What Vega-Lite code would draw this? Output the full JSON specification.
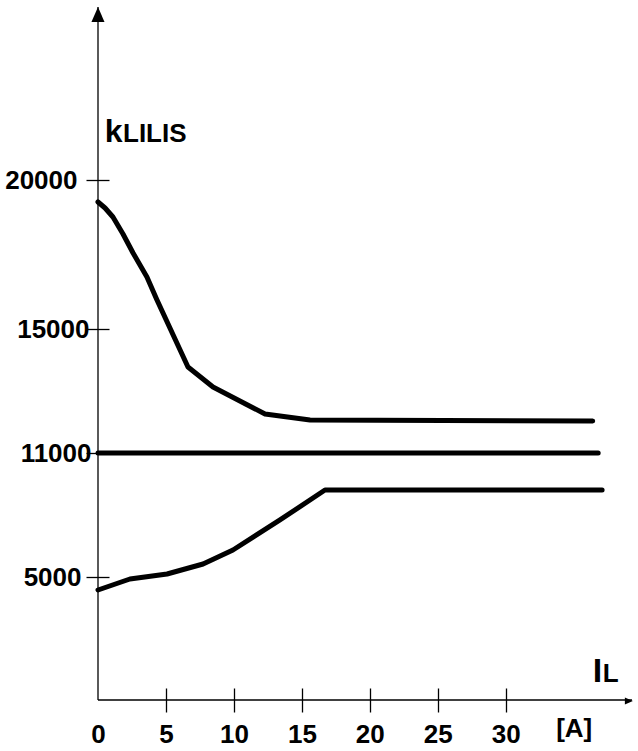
{
  "$schema": "https://vega.github.io/schema/vega-lite/v6.json",
  "width": 534,
  "height": 693,
  "autosize": {"type": "none"},
  "padding": {"left": 98, "top": 7, "right": 6, "bottom": 51},
  "background": "white",
  "config": {"view": {"stroke": null}, "font": "Liberation Sans"},
  "layer": [
    {
      "data": {"values": [
        {"s": "upper", "x": 0, "y": 19262},
        {"s": "upper", "x": 0.52, "y": 19060},
        {"s": "upper", "x": 1.10, "y": 18758},
        {"s": "upper", "x": 1.84, "y": 18188},
        {"s": "upper", "x": 2.58, "y": 17550},
        {"s": "upper", "x": 3.6, "y": 16745},
        {"s": "upper", "x": 4.34, "y": 15973},
        {"s": "upper", "x": 6.62, "y": 13774},
        {"s": "upper", "x": 8.46, "y": 13129},
        {"s": "upper", "x": 12.29, "y": 12258},
        {"s": "upper", "x": 15.6, "y": 12064},
        {"s": "upper", "x": 36.4, "y": 12032},
        {"s": "middle", "x": 0, "y": 11000},
        {"s": "middle", "x": 36.8, "y": 11000},
        {"s": "lower", "x": 0, "y": 4472},
        {"s": "lower", "x": 2.35, "y": 4919},
        {"s": "lower", "x": 5.08, "y": 5145},
        {"s": "lower", "x": 7.73, "y": 5629},
        {"s": "lower", "x": 9.93, "y": 6307},
        {"s": "lower", "x": 13.39, "y": 7759},
        {"s": "lower", "x": 16.7, "y": 9211},
        {"s": "lower", "x": 37.09, "y": 9211}
      ]},
      "mark": {"type": "line", "color": "black", "strokeWidth": 5, "strokeCap": "round", "strokeJoin": "round"},
      "encoding": {
        "x": {"field": "x", "type": "quantitative",
          "scale": {"domain": [0, 39.29], "nice": false, "zero": false},
          "axis": {"title": null, "domain": false, "grid": false,
            "values": [0, 5, 10, 15, 20, 25, 30, 35],
            "labelExpr": "datum.value == 35 ? '[A]' : datum.label",
            "offset": -12, "tickSize": 24, "tickWidth": 1.3, "tickColor": "black",
            "tickOpacity": {"condition": {"test": "datum.value == 0 || datum.value == 35", "value": 0}, "value": 1},
            "labelPadding": {"condition": {"test": "datum.value == 35", "value": 3}, "value": 9},
            "labelFont": "Liberation Sans", "labelFontSize": 26, "labelFontWeight": "bold",
            "labelColor": "black", "labelFlush": false, "labelOverlap": false}},
        "y": {"field": "y", "type": "quantitative",
          "scale": {"domain": [0, 5000, 11000, 15000, 20000, 25000], "range": [693, 570, 446, 322, 173, 0], "nice": false, "zero": false},
          "axis": {"title": null, "domain": false, "grid": false, "format": "d",
            "values": [5000, 11000, 15000, 20000],
            "offset": -11, "tickSize": 23, "tickWidth": 1.3, "tickColor": "black",
            "labelPadding": {"condition": [
              {"test": "datum.value == 20000", "value": 9},
              {"test": "datum.value == 15000", "value": -3},
              {"test": "datum.value == 11000", "value": -5}
            ], "value": 5},
            "labelFont": "Liberation Sans", "labelFontSize": 26, "labelFontWeight": "bold",
            "labelColor": "black", "labelOverlap": false}},
        "detail": {"field": "s"}
      }
    },
    {
      "data": {"values": [{}]},
      "mark": {"type": "rule", "color": "black", "strokeWidth": 1.3},
      "encoding": {"x": {"datum": 0}}
    },
    {
      "data": {"values": [{}]},
      "mark": {"type": "rule", "color": "black", "strokeWidth": 1.3},
      "encoding": {"y": {"datum": 0}}
    },
    {
      "data": {"values": [{}]},
      "mark": {"type": "point", "shape": "M0,-1L0.87,1L-0.87,1Z", "filled": true, "color": "black", "opacity": 1, "size": 225},
      "encoding": {"x": {"datum": 0}, "y": {"datum": 24783}}
    },
    {
      "data": {"values": [{}]},
      "mark": {"type": "point", "shape": "M1,0L-1,0.87L-1,-0.87Z", "filled": true, "color": "black", "opacity": 1, "size": 64},
      "encoding": {"x": {"datum": 39.06}, "y": {"datum": -40}}
    },
    {
      "data": {"values": [{}]},
      "mark": {"type": "text", "align": "left", "baseline": "alphabetic", "font": "Liberation Sans", "fontWeight": "bold", "fontSize": 32, "color": "black"},
      "encoding": {"x": {"datum": 0.5}, "y": {"datum": 21098}, "text": {"value": "k"}}
    },
    {
      "data": {"values": [{}]},
      "mark": {"type": "text", "align": "left", "baseline": "alphabetic", "font": "Liberation Sans", "fontWeight": "bold", "fontSize": 26, "color": "black"},
      "encoding": {"x": {"datum": 1.84}, "y": {"datum": 21098}, "text": {"value": "LILIS"}}
    },
    {
      "data": {"values": [{}]},
      "mark": {"type": "text", "align": "left", "baseline": "alphabetic", "font": "Liberation Sans", "fontWeight": "bold", "fontSize": 34, "color": "black"},
      "encoding": {"x": {"datum": 36.4}, "y": {"datum": 732}, "text": {"value": "I"}}
    },
    {
      "data": {"values": [{}]},
      "mark": {"type": "text", "align": "left", "baseline": "alphabetic", "font": "Liberation Sans", "fontWeight": "bold", "fontSize": 26, "color": "black"},
      "encoding": {"x": {"datum": 37.13}, "y": {"datum": 732}, "text": {"value": "L"}}
    }
  ]
}
